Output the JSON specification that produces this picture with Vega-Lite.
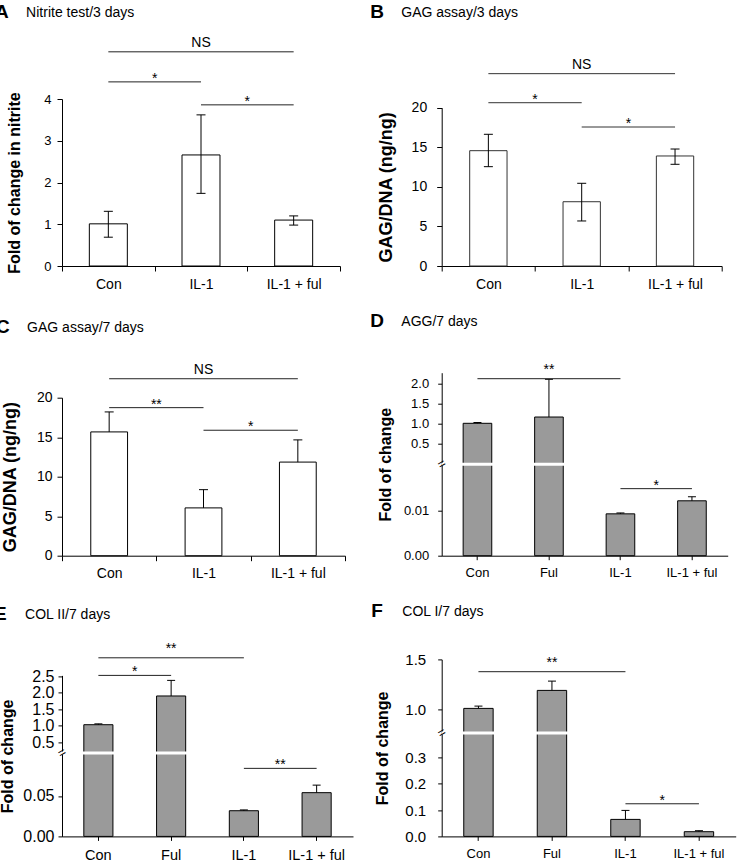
{
"$schema": "https://vega.github.io/schema/vega-lite/v6.json",
"background": "white",
"padding": {"left": -6, "top": 2, "right": 5, "bottom": 0},
"columns": 2,
"align": "each",
"spacing": {"row": 20.7, "column": 14.7},
"config": {
  "font": "Liberation Sans",
  "view": {"stroke": null},
  "axis": {"labelFont": "Liberation Sans", "titleFont": "Liberation Sans", "domainColor": "black", "tickColor": "black", "labelColor": "black", "titleColor": "black", "grid": false, "titleFontWeight": "bold", "labelOverlap": false},
  "title": {"anchor": "start", "frame": "group", "font": "Liberation Sans", "fontSize": 19, "fontWeight": "bold", "color": "black", "subtitleFont": "Liberation Sans", "subtitleFontSize": 14, "subtitleColor": "black", "subtitlePadding": -16},
  "text": {"font": "Liberation Sans", "fontSize": 14, "color": "black"}
},
"datasets": {
  "bars": [
    {"p":"A","g":"Con","mean":1.01,"lo":0.69,"hi":1.31},
    {"p":"A","g":"IL-1","mean":2.66,"lo":1.74,"hi":3.62},
    {"p":"A","g":"IL-1 + ful","mean":1.1,"lo":0.98,"hi":1.2},
    {"p":"B","g":"Con","mean":14.57,"lo":12.55,"hi":16.64},
    {"p":"B","g":"IL-1","mean":8.12,"lo":5.69,"hi":10.45},
    {"p":"B","g":"IL-1 + ful","mean":13.9,"lo":12.85,"hi":14.78},
    {"p":"C","g":"Con","mean":15.67,"lo":15.67,"hi":18.2},
    {"p":"C","g":"IL-1","mean":6.05,"lo":6.05,"hi":8.36},
    {"p":"C","g":"IL-1 + ful","mean":11.85,"lo":11.85,"hi":14.66},
    {"p":"D","g":"Con","mean":1.01,"lo":1.01,"hi":1.03},
    {"p":"D","g":"Ful","mean":1.167,"lo":1.167,"hi":2.11},
    {"p":"D","g":"IL-1","mean":0.0093,"lo":0.0093,"hi":0.0095},
    {"p":"D","g":"IL-1 + ful","mean":0.0122,"lo":0.0122,"hi":0.0131},
    {"p":"E","g":"Con","mean":1.034,"lo":1.034,"hi":1.06},
    {"p":"E","g":"Ful","mean":1.9,"lo":1.9,"hi":2.37},
    {"p":"E","g":"IL-1","mean":0.0317,"lo":0.0317,"hi":0.0327},
    {"p":"E","g":"IL-1 + ful","mean":0.054,"lo":0.054,"hi":0.0633},
    {"p":"F","g":"Con","mean":1.01,"lo":1.01,"hi":1.033},
    {"p":"F","g":"Ful","mean":1.19,"lo":1.19,"hi":1.283},
    {"p":"F","g":"IL-1","mean":0.0646,"lo":0.0646,"hi":0.0988},
    {"p":"F","g":"IL-1 + ful","mean":0.0179,"lo":0.0179,"hi":0.0217}
  ],
  "sig": [
    {"p":"A","from":"Con","to":"IL-1 + ful","y":5.13,"label":"NS","at":"IL-1","edge":false},
    {"p":"A","from":"Con","to":"IL-1","y":4.41,"label":"*","at":"Con","edge":true},
    {"p":"A","from":"IL-1","to":"IL-1 + ful","y":3.86,"label":"*","at":"IL-1","edge":true},
    {"p":"B","from":"Con","to":"IL-1 + ful","y":24.3,"label":"NS","at":"IL-1","edge":false},
    {"p":"B","from":"Con","to":"IL-1","y":20.63,"label":"*","at":"Con","edge":true},
    {"p":"B","from":"IL-1","to":"IL-1 + ful","y":17.56,"label":"*","at":"IL-1","edge":true},
    {"p":"C","from":"Con","to":"IL-1 + ful","y":22.4,"label":"NS","at":"IL-1","edge":false},
    {"p":"C","from":"Con","to":"IL-1","y":18.74,"label":"**","at":"Con","edge":true},
    {"p":"C","from":"IL-1","to":"IL-1 + ful","y":15.88,"label":"*","at":"IL-1","edge":true},
    {"p":"D","from":"Con","to":"IL-1","y":2.125,"label":"**","at":"Ful","edge":false},
    {"p":"D","from":"IL-1","to":"IL-1 + ful","y":0.0149,"label":"*","at":"IL-1","edge":true},
    {"p":"E","from":"Con","to":"IL-1","y":3.05,"label":"**","at":"Ful","edge":false},
    {"p":"E","from":"Con","to":"Ful","y":2.52,"label":"*","at":"Con","edge":true},
    {"p":"E","from":"IL-1","to":"IL-1 + ful","y":0.084,"label":"**","at":"IL-1","edge":true},
    {"p":"F","from":"Con","to":"IL-1","y":1.377,"label":"**","at":"Ful","edge":false},
    {"p":"F","from":"IL-1","to":"IL-1 + ful","y":0.124,"label":"*","at":"IL-1","edge":true}
  ]
},
"concat": [
{
  "width": 278, "height": 167,
  "title": {"text": "A", "subtitle": "\u200b\u00a0\u00a0\u00a0\u00a0\u00a0\u00a0\u00a0\u00a0Nitrite test/3 days", "offset": 14, "dx": -67},
  "layer": [
    {"data": {"name": "bars"}, "transform": [{"filter": "datum.p == 'A'"}],
     "layer": [
       {"mark": {"type": "bar", "fill": "white", "stroke": "black", "strokeWidth": 1, "width": {"band": 0.41}},
        "encoding": {
          "x": {"field": "g", "type": "nominal", "sort": null, "scale": {"domain": ["Con","IL-1","IL-1 + ful"], "paddingInner": 0, "paddingOuter": 0},
                "axis": {"title": null, "labelAngle": 0, "labelFontSize": 14, "tickSize": 5, "tickBand": "extent", "labelPadding": 6}},
          "y": {"field": "mean", "type": "quantitative", "scale": {"domain": [0, 4], "range": [167, 0], "nice": false, "zero": false},
                "axis": {"title": "Fold of change in nitrite", "values": [0,1,2,3,4], "tickCount": 20, "format": "d", "labelOverlap": false, "labelFontSize": 13, "titleFontSize": 16, "tickSize": 5, "labelPadding": 6, "titlePadding": 21}}
        }},
       {"mark": {"type": "rule", "color": "black"},
        "encoding": {"x": {"field": "g", "type": "nominal"}, "y": {"field": "lo", "type": "quantitative"}, "y2": {"field": "hi"}}},
       {"mark": {"type": "tick", "size": 9, "thickness": 1, "color": "black", "opacity": 1, "orient": "horizontal"},
        "encoding": {"x": {"field": "g", "type": "nominal"}, "y": {"field": "hi", "type": "quantitative"}}},
       {"transform": [{"filter": "datum.lo < datum.mean"}],
        "mark": {"type": "tick", "size": 9, "thickness": 1, "color": "black", "opacity": 1, "orient": "horizontal"},
        "encoding": {"x": {"field": "g", "type": "nominal"}, "y": {"field": "lo", "type": "quantitative"}}}
     ]},
    {"data": {"name": "sig"}, "transform": [{"filter": "datum.p == 'A'"}],
     "layer": [
       {"mark": {"type": "rule", "color": "#222"},
        "encoding": {"x": {"field": "from", "type": "nominal"}, "x2": {"field": "to"}, "y": {"field": "y", "type": "quantitative"}}},
       {"transform": [{"filter": "datum.edge"}],
        "mark": {"type": "text", "baseline": "alphabetic", "dy": 1},
        "encoding": {"x": {"field": "at", "type": "nominal", "bandPosition": 1}, "y": {"field": "y", "type": "quantitative"}, "text": {"field": "label"}}},
       {"transform": [{"filter": "!datum.edge"}],
        "mark": {"type": "text", "baseline": "alphabetic", "dy": -5},
        "encoding": {"x": {"field": "at", "type": "nominal"}, "y": {"field": "y", "type": "quantitative"}, "text": {"field": "label"}}}
     ]}
  ]
},
{
  "width": 280, "height": 167,
  "title": {"text": "B", "subtitle": "\u200b\u00a0\u00a0\u00a0\u00a0\u00a0\u00a0\u00a0\u00a0GAG assay/3 days", "offset": 36, "dx": -71.5},
  "layer": [
    {"data": {"name": "bars"}, "transform": [{"filter": "datum.p == 'B'"}],
     "layer": [
       {"mark": {"type": "bar", "fill": "white", "stroke": "#333", "strokeWidth": 1, "width": {"band": 0.4}},
        "encoding": {
          "x": {"field": "g", "type": "nominal", "sort": null, "scale": {"domain": ["Con","IL-1","IL-1 + ful"], "paddingInner": 0, "paddingOuter": 0},
                "axis": {"title": null, "labelAngle": 0, "labelFontSize": 14, "tickSize": 5, "tickBand": "extent", "labelPadding": 6}},
          "y": {"field": "mean", "type": "quantitative", "scale": {"domain": [0, 20], "range": [167, 8.7], "nice": false, "zero": false},
                "axis": {"title": "GAG/DNA (ng/ng)", "values": [0,5,10,15,20], "tickCount": 20, "format": "d", "labelOverlap": false, "labelFontSize": 14, "titleFontSize": 18, "tickSize": 5, "labelPadding": 10, "titlePadding": 16}}
        }},
       {"mark": {"type": "rule", "color": "black"},
        "encoding": {"x": {"field": "g", "type": "nominal"}, "y": {"field": "lo", "type": "quantitative"}, "y2": {"field": "hi"}}},
       {"mark": {"type": "tick", "size": 9, "thickness": 1, "color": "black", "opacity": 1, "orient": "horizontal"},
        "encoding": {"x": {"field": "g", "type": "nominal"}, "y": {"field": "hi", "type": "quantitative"}}},
       {"transform": [{"filter": "datum.lo < datum.mean"}],
        "mark": {"type": "tick", "size": 9, "thickness": 1, "color": "black", "opacity": 1, "orient": "horizontal"},
        "encoding": {"x": {"field": "g", "type": "nominal"}, "y": {"field": "lo", "type": "quantitative"}}}
     ]},
    {"data": {"name": "sig"}, "transform": [{"filter": "datum.p == 'B'"}],
     "layer": [
       {"mark": {"type": "rule", "color": "#333"},
        "encoding": {"x": {"field": "from", "type": "nominal"}, "x2": {"field": "to"}, "y": {"field": "y", "type": "quantitative"}}},
       {"transform": [{"filter": "datum.edge"}],
        "mark": {"type": "text", "baseline": "alphabetic", "dy": 1},
        "encoding": {"x": {"field": "at", "type": "nominal", "bandPosition": 1}, "y": {"field": "y", "type": "quantitative"}, "text": {"field": "label"}}},
       {"transform": [{"filter": "!datum.edge"}],
        "mark": {"type": "text", "baseline": "alphabetic", "dy": -5},
        "encoding": {"x": {"field": "at", "type": "nominal"}, "y": {"field": "y", "type": "quantitative"}, "text": {"field": "label"}}}
     ]}
  ]
},
{
  "width": 283, "height": 183,
  "title": {"text": "C", "subtitle": "\u200b\u00a0\u00a0\u00a0\u00a0\u00a0\u00a0\u00a0\u00a0GAG assay/7 days", "offset": 26, "dx": -66},
  "layer": [
    {"data": {"name": "bars"}, "transform": [{"filter": "datum.p == 'C'"}],
     "layer": [
       {"mark": {"type": "bar", "fill": "white", "stroke": "black", "strokeWidth": 1, "width": {"band": 0.39}},
        "encoding": {
          "x": {"field": "g", "type": "nominal", "sort": null, "scale": {"domain": ["Con","IL-1","IL-1 + ful"], "paddingInner": 0, "paddingOuter": 0},
                "axis": {"title": null, "labelAngle": 0, "labelFontSize": 14, "tickSize": 5, "tickBand": "extent", "labelPadding": 6}},
          "y": {"field": "mean", "type": "quantitative", "scale": {"domain": [0, 20], "range": [183, 25], "nice": false, "zero": false},
                "axis": {"title": "GAG/DNA (ng/ng)", "values": [0,5,10,15,20], "tickCount": 20, "format": "d", "labelOverlap": false, "labelFontSize": 14, "titleFontSize": 18, "tickSize": 5, "labelPadding": 5, "titlePadding": 17}}
        }},
       {"mark": {"type": "rule", "color": "black"},
        "encoding": {"x": {"field": "g", "type": "nominal"}, "y": {"field": "lo", "type": "quantitative"}, "y2": {"field": "hi"}}},
       {"mark": {"type": "tick", "size": 9, "thickness": 1, "color": "black", "opacity": 1, "orient": "horizontal"},
        "encoding": {"x": {"field": "g", "type": "nominal"}, "y": {"field": "hi", "type": "quantitative"}}}
     ]},
    {"data": {"name": "sig"}, "transform": [{"filter": "datum.p == 'C'"}],
     "layer": [
       {"mark": {"type": "rule", "color": "#222"},
        "encoding": {"x": {"field": "from", "type": "nominal"}, "x2": {"field": "to"}, "y": {"field": "y", "type": "quantitative"}}},
       {"transform": [{"filter": "datum.edge"}],
        "mark": {"type": "text", "baseline": "alphabetic", "dy": 1},
        "encoding": {"x": {"field": "at", "type": "nominal", "bandPosition": 1}, "y": {"field": "y", "type": "quantitative"}, "text": {"field": "label"}}},
       {"transform": [{"filter": "!datum.edge"}],
        "mark": {"type": "text", "baseline": "alphabetic", "dy": -5},
        "encoding": {"x": {"field": "at", "type": "nominal"}, "y": {"field": "y", "type": "quantitative"}, "text": {"field": "label"}}}
     ]}
  ]
},
{
  "width": 286, "height": 183,
  "title": {"text": "D", "subtitle": "\u200b\u00a0\u00a0\u00a0\u00a0\u00a0\u00a0\u00a0\u00a0AGG/7 days", "offset": 32, "dx": -71.5},
  "layer": [
    {"data": {"name": "bars"}, "transform": [{"filter": "datum.p == 'D'"}],
     "layer": [
       {"mark": {"type": "bar", "fill": "#9a9a9a", "stroke": "black", "strokeWidth": 1, "width": {"band": 0.4}},
        "encoding": {
          "x": {"field": "g", "type": "nominal", "sort": null, "scale": {"domain": ["Con","Ful","IL-1","IL-1 + ful"], "paddingInner": 0, "paddingOuter": 0},
                "axis": {"title": null, "labelAngle": 0, "labelFontSize": 13, "tickSize": 4, "tickBand": "center", "labelPadding": 7}},
          "y": {"field": "mean", "type": "quantitative", "scale": {"domain": [0, 0.02, 0.025, 2.275], "range": [183, 93, 90, 0], "nice": false, "zero": false},
                "axis": {"title": "Fold of change", "values": [0, 0.01, 0.5, 1, 1.5, 2], "tickCount": 20, "labelOverlap": false, "labelExpr": "datum.value < 0.1 ? format(datum.value, '.2f') : format(datum.value, '.1f')", "labelFontSize": 13, "titleFontSize": 16, "tickSize": 4, "labelPadding": 9, "titlePadding": 10}}
        }},
       {"mark": {"type": "rule", "color": "black"},
        "encoding": {"x": {"field": "g", "type": "nominal"}, "y": {"field": "lo", "type": "quantitative"}, "y2": {"field": "hi"}}},
       {"mark": {"type": "tick", "size": 8, "thickness": 1, "color": "black", "opacity": 1, "orient": "horizontal"},
        "encoding": {"x": {"field": "g", "type": "nominal"}, "y": {"field": "hi", "type": "quantitative"}}}
     ]},
    {"data": {"values": [{"k": 1}]},
     "layer": [
       {"mark": {"type": "rule", "color": "white", "strokeWidth": 3},
        "encoding": {"y": {"datum": 0.0225, "type": "quantitative"}}},
       {"mark": {"type": "text", "text": "=", "angle": 330, "fontSize": 13},
        "encoding": {"x": {"datum": "Con", "type": "nominal", "bandPosition": 0}, "y": {"datum": 0.0225, "type": "quantitative"}}}
     ]},
    {"data": {"name": "sig"}, "transform": [{"filter": "datum.p == 'D'"}],
     "layer": [
       {"mark": {"type": "rule", "color": "#222"},
        "encoding": {"x": {"field": "from", "type": "nominal"}, "x2": {"field": "to"}, "y": {"field": "y", "type": "quantitative"}}},
       {"transform": [{"filter": "datum.edge"}],
        "mark": {"type": "text", "baseline": "alphabetic", "dy": 1},
        "encoding": {"x": {"field": "at", "type": "nominal", "bandPosition": 1}, "y": {"field": "y", "type": "quantitative"}, "text": {"field": "label"}}},
       {"transform": [{"filter": "!datum.edge"}],
        "mark": {"type": "text", "baseline": "alphabetic", "dy": -5},
        "encoding": {"x": {"field": "at", "type": "nominal"}, "y": {"field": "y", "type": "quantitative"}, "text": {"field": "label"}}}
     ]}
  ]
},
{
  "width": 291, "height": 177,
  "title": {"text": "E", "subtitle": "\u200b\u00a0\u00a0\u00a0\u00a0\u00a0\u00a0\u00a0\u00a0COL II/7 days", "offset": 17.5, "dx": -68},
  "layer": [
    {"data": {"name": "bars"}, "transform": [{"filter": "datum.p == 'E'"}],
     "layer": [
       {"mark": {"type": "bar", "fill": "#9a9a9a", "stroke": "black", "strokeWidth": 1, "width": {"band": 0.4}},
        "encoding": {
          "x": {"field": "g", "type": "nominal", "sort": null, "scale": {"domain": ["Con","Ful","IL-1","IL-1 + ful"], "paddingInner": 0, "paddingOuter": 0},
                "axis": {"title": null, "labelAngle": 0, "labelFontSize": 14.5, "tickSize": 4, "tickBand": "center", "labelPadding": 8}},
          "y": {"field": "mean", "type": "quantitative", "scale": {"domain": [0, 0.1, 0.26, 2.52], "range": [177, 96, 91, 16], "nice": false, "zero": false},
                "axis": {"title": "Fold of change", "values": [0, 0.05, 0.5, 1, 1.5, 2, 2.5], "tickCount": 20, "labelOverlap": false, "labelExpr": "datum.value < 0.1 ? format(datum.value, '.2f') : format(datum.value, '.1f')", "labelFontSize": 16, "titleFontSize": 16, "tickSize": 4, "labelPadding": 4, "titlePadding": 7}}
        }},
       {"mark": {"type": "rule", "color": "black"},
        "encoding": {"x": {"field": "g", "type": "nominal"}, "y": {"field": "lo", "type": "quantitative"}, "y2": {"field": "hi"}}},
       {"mark": {"type": "tick", "size": 8, "thickness": 1, "color": "black", "opacity": 1, "orient": "horizontal"},
        "encoding": {"x": {"field": "g", "type": "nominal"}, "y": {"field": "hi", "type": "quantitative"}}}
     ]},
    {"data": {"values": [{"k": 1}]},
     "layer": [
       {"mark": {"type": "rule", "color": "white", "strokeWidth": 3},
        "encoding": {"y": {"datum": 0.18, "type": "quantitative"}}},
       {"mark": {"type": "text", "text": "=", "angle": 330, "fontSize": 13},
        "encoding": {"x": {"datum": "Con", "type": "nominal", "bandPosition": 0}, "y": {"datum": 0.18, "type": "quantitative"}}}
     ]},
    {"data": {"name": "sig"}, "transform": [{"filter": "datum.p == 'E'"}],
     "layer": [
       {"mark": {"type": "rule", "color": "#222"},
        "encoding": {"x": {"field": "from", "type": "nominal"}, "x2": {"field": "to"}, "y": {"field": "y", "type": "quantitative"}}},
       {"transform": [{"filter": "datum.edge"}],
        "mark": {"type": "text", "baseline": "alphabetic", "dy": 1},
        "encoding": {"x": {"field": "at", "type": "nominal", "bandPosition": 1}, "y": {"field": "y", "type": "quantitative"}, "text": {"field": "label"}}},
       {"transform": [{"filter": "!datum.edge"}],
        "mark": {"type": "text", "baseline": "alphabetic", "dy": -5},
        "encoding": {"x": {"field": "at", "type": "nominal"}, "y": {"field": "y", "type": "quantitative"}, "text": {"field": "label"}}}
     ]}
  ]
},
{
  "width": 294, "height": 177,
  "title": {"text": "F", "subtitle": "\u200b\u00a0\u00a0\u00a0\u00a0\u00a0\u00a0\u00a0\u00a0COL I/7 days", "offset": 31.5, "dx": -70.5},
  "layer": [
    {"data": {"name": "bars"}, "transform": [{"filter": "datum.p == 'F'"}],
     "layer": [
       {"mark": {"type": "bar", "fill": "#9a9a9a", "stroke": "black", "strokeWidth": 1, "width": {"band": 0.4}},
        "encoding": {
          "x": {"field": "g", "type": "nominal", "sort": null, "scale": {"domain": ["Con","Ful","IL-1","IL-1 + ful"], "paddingInner": 0, "paddingOuter": 0},
                "axis": {"title": null, "labelAngle": 0, "labelFontSize": 13, "tickSize": 4, "tickBand": "center", "labelPadding": 7}},
          "y": {"field": "mean", "type": "quantitative", "scale": {"domain": [0, 0.38, 0.8, 1.5], "range": [177, 77, 70, 0], "nice": false, "zero": false},
                "axis": {"title": "Fold of change", "values": [0, 0.1, 0.2, 0.3, 1, 1.5], "tickCount": 20, "labelOverlap": false, "format": ".1f", "labelFontSize": 15, "titleFontSize": 16, "tickSize": 4, "labelPadding": 12, "titlePadding": 14}}
        }},
       {"mark": {"type": "rule", "color": "black"},
        "encoding": {"x": {"field": "g", "type": "nominal"}, "y": {"field": "lo", "type": "quantitative"}, "y2": {"field": "hi"}}},
       {"mark": {"type": "tick", "size": 8, "thickness": 1, "color": "black", "opacity": 1, "orient": "horizontal"},
        "encoding": {"x": {"field": "g", "type": "nominal"}, "y": {"field": "hi", "type": "quantitative"}}}
     ]},
    {"data": {"values": [{"k": 1}]},
     "layer": [
       {"mark": {"type": "rule", "color": "white", "strokeWidth": 3},
        "encoding": {"y": {"datum": 0.59, "type": "quantitative"}}},
       {"mark": {"type": "text", "text": "=", "angle": 330, "fontSize": 13},
        "encoding": {"x": {"datum": "Con", "type": "nominal", "bandPosition": 0}, "y": {"datum": 0.59, "type": "quantitative"}}}
     ]},
    {"data": {"name": "sig"}, "transform": [{"filter": "datum.p == 'F'"}],
     "layer": [
       {"mark": {"type": "rule", "color": "#222"},
        "encoding": {"x": {"field": "from", "type": "nominal"}, "x2": {"field": "to"}, "y": {"field": "y", "type": "quantitative"}}},
       {"transform": [{"filter": "datum.edge"}],
        "mark": {"type": "text", "baseline": "alphabetic", "dy": 1},
        "encoding": {"x": {"field": "at", "type": "nominal", "bandPosition": 1}, "y": {"field": "y", "type": "quantitative"}, "text": {"field": "label"}}},
       {"transform": [{"filter": "!datum.edge"}],
        "mark": {"type": "text", "baseline": "alphabetic", "dy": -5},
        "encoding": {"x": {"field": "at", "type": "nominal"}, "y": {"field": "y", "type": "quantitative"}, "text": {"field": "label"}}}
     ]}
  ]
}
]
}
